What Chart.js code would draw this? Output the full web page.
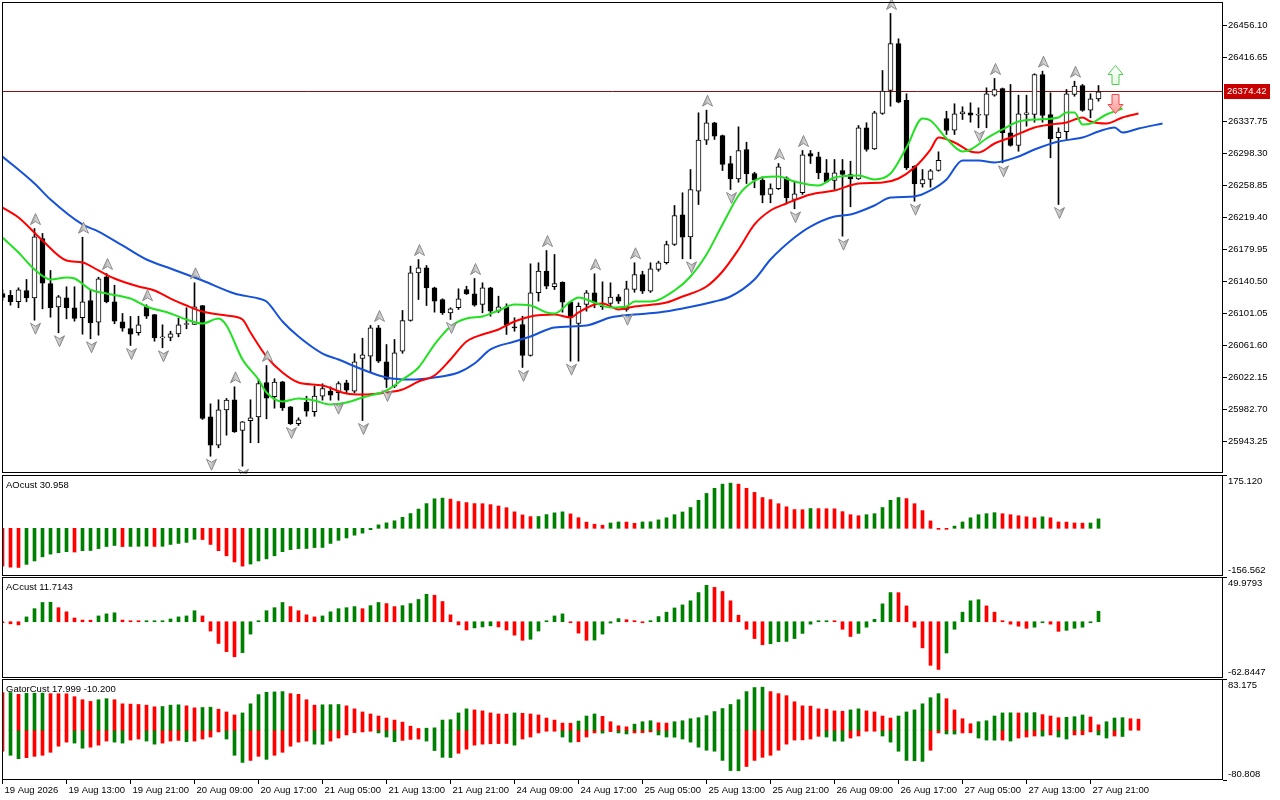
<!DOCTYPE html>
<html>
<head>
<meta charset="utf-8">
<script src="https://cdn.jsdelivr.net/npm/chart.js@4.4.1/dist/chart.umd.min.js"></script>
<style>
  html, body { margin: 0; padding: 0; background: #fff; }
  #wrap { position: relative; width: 1280px; height: 800px; overflow: hidden; background: #fff; }
  canvas { position: absolute; left: 0; }
</style>
</head>
<body>
<div id="wrap">
  <canvas id="main" width="1280" height="474" style="top:0px;width:1280px;height:474px"></canvas>
  <canvas id="ao" width="1280" height="101" style="top:475px;width:1280px;height:101px"></canvas>
  <canvas id="ac" width="1280" height="101" style="top:577px;width:1280px;height:101px"></canvas>
  <canvas id="gator" width="1280" height="121" style="top:679px;width:1280px;height:121px"></canvas>
</div>
<script>
// ---- data (bar -1 is the half-visible bar at the left edge) ----
const FIRST_BAR = -1;

const opens = [26125.7,26123.6,26115.5,26129.4,26120.4,26193.5,26138.0,26109.3,26120.4,26108.1,
  26095.8,26117.1,26090.3,26146.3,26115.5,26090.8,26082.6,26077.3,26109.7,26099.8,
  26071.1,26071.5,26076.0,26087.5,26087.5,26110.9,25973.7,25938.7,25982.3,25994.7,
  25956.8,25968.8,25973.7,26016.0,25998.4,26016.9,25986.0,25965.1,25991.7,25979.9,
  25999.1,26005.3,26003.3,26015.6,26005.3,26045.6,26048.4,26083.4,26041.5,26011.4,
  26054.6,26092.4,26151.2,26157.4,26132.7,26118.3,26101.9,26108.1,26130.6,26125.3,
  26112.1,26132.7,26103.9,26109.3,26084.7,26087.5,26049.3,26126.6,26153.2,26134.0,
  26139.6,26115.0,26088.7,26112.1,26126.6,26110.3,26113.4,26121.6,26106.0,26130.6,
  26149.1,26128.5,26155.3,26163.6,26186.1,26222.7,26195.6,26251.8,26314.7,26336.2,
  26320.5,26286.0,26267.1,26303.2,26273.6,26265.4,26247.8,26254.8,26268.3,26241.6,
  26249.9,26298.3,26294.2,26274.5,26265.0,26277.3,26272.4,26267.1,26330.0,26304.1,
  26347.6,26376.0,26433.9,26364.0,26282.6,26260.9,26266.3,26277.3,26341.4,26327.0,
  26347.2,26348.5,26345.5,26345.5,26370.2,26378.4,26323.8,26308.2,26346.4,26346.4,
  26395.7,26346.4,26317.7,26325.1,26371.0,26382.1,26351.7,26365.7];
const highs = [26130.6,26129.4,26132.7,26143.0,26205.8,26199.7,26154.1,26123.2,26134.0,26134.0,
  26195.1,26130.6,26145.8,26150.4,26135.9,26101.1,26097.4,26097.7,26111.8,26099.8,
  26087.1,26079.2,26095.3,26108.1,26138.9,26110.9,25989.7,25994.7,25996.3,26010.7,
  25968.0,25994.7,26019.7,26037.0,26020.6,26017.5,25986.4,25972.5,25999.1,26011.4,
  26014.4,26010.7,26016.9,26018.8,26051.4,26070.6,26086.3,26086.3,26062.8,26069.0,
  26104.8,26159.4,26167.6,26160.2,26133.5,26119.2,26108.1,26131.5,26134.7,26144.2,
  26138.9,26133.3,26122.4,26113.0,26095.8,26097.7,26162.3,26163.6,26178.7,26173.8,
  26140.2,26115.6,26114.2,26129.4,26150.0,26140.1,26138.9,26124.5,26140.9,26163.6,
  26153.2,26163.6,26165.5,26190.2,26234.2,26249.9,26278.6,26348.5,26351.7,26336.8,
  26321.1,26295.0,26331.2,26312.2,26275.2,26269.6,26260.9,26286.0,26269.6,26264.2,
  26302.0,26302.0,26299.9,26290.9,26290.9,26290.9,26288.8,26332.8,26336.2,26350.4,
  26400.6,26470.9,26439.7,26371.9,26283.2,26278.6,26278.6,26300.4,26350.4,26359.6,
  26355.9,26360.8,26354.6,26379.3,26390.8,26379.0,26383.4,26370.2,26370.2,26396.6,
  26399.8,26373.1,26330.0,26377.2,26387.4,26383.4,26371.9,26382.1];
const lows = [26117.1,26111.3,26108.1,26115.5,26092.8,26106.8,26096.5,26077.3,26094.5,26091.6,
  26075.5,26069.9,26074.3,26114.2,26088.4,26079.2,26061.6,26074.3,26094.9,26066.9,
  26058.8,26067.4,26072.3,26082.2,26087.5,25970.4,25925.1,25935.5,25951.0,25954.5,
  25912.8,25941.7,25941.7,25971.2,25984.3,25981.5,25964.2,25963.0,25974.4,25974.4,
  25994.2,25994.2,25994.2,26003.3,26003.3,25969.1,26028.7,26040.6,26009.8,26009.8,
  26052.0,26091.6,26118.3,26110.9,26102.7,26099.8,26093.7,26106.0,26124.5,26110.0,
  26101.9,26097.7,26102.3,26075.2,26079.2,26034.5,26048.5,26116.2,26131.5,26130.6,
  26102.7,26042.3,26042.3,26103.9,26108.1,26106.0,26110.9,26113.4,26103.9,26127.3,
  26125.7,26127.0,26153.2,26162.0,26184.9,26168.5,26168.5,26235.4,26309.4,26315.6,
  26277.3,26253.9,26262.9,26261.3,26256.0,26237.5,26237.5,26253.9,26237.5,26230.1,
  26247.8,26286.0,26267.1,26262.5,26253.9,26196.4,26232.6,26266.3,26301.1,26303.2,
  26346.5,26356.6,26360.8,26278.6,26239.5,26256.8,26256.8,26276.5,26321.7,26321.7,
  26340.2,26336.9,26330.0,26330.0,26368.9,26286.8,26307.3,26301.1,26332.0,26336.9,
  26336.9,26293.0,26235.4,26315.6,26368.9,26350.4,26342.3,26362.8];
const closes = [26120.8,26115.5,26130.3,26120.4,26195.6,26138.4,26108.1,26121.6,26108.1,26094.9,
  26115.5,26089.6,26143.8,26115.5,26091.6,26082.9,26075.5,26087.1,26097.7,26071.1,
  26071.8,26076.0,26087.1,26088.7,26109.3,25971.6,25938.7,25982.3,25994.2,25955.2,
  25967.5,25972.5,26014.8,25996.6,26016.4,25984.8,25965.1,25970.0,25980.6,25999.1,
  26008.6,26000.3,26014.8,26006.5,26041.5,26050.1,26083.4,26042.3,26019.7,26052.6,
  26092.4,26151.2,26157.4,26132.7,26116.2,26101.9,26106.8,26119.2,26125.3,26111.3,
  26132.7,26103.9,26109.3,26086.6,26083.4,26049.3,26126.6,26153.2,26134.7,26138.0,
  26115.0,26095.8,26110.0,26126.6,26114.2,26109.1,26121.2,26116.2,26131.5,26149.1,
  26128.5,26156.2,26163.6,26186.1,26221.9,26195.1,26253.9,26314.7,26336.2,26319.6,
  26284.7,26267.1,26302.0,26273.3,26265.4,26246.9,26255.2,26281.9,26243.7,26248.6,
  26296.7,26295.0,26274.5,26263.4,26274.5,26272.4,26267.1,26330.0,26303.2,26348.5,
  26375.1,26433.9,26361.5,26280.7,26260.9,26266.3,26277.0,26290.0,26326.7,26347.2,
  26349.7,26345.5,26346.4,26371.9,26377.2,26323.8,26308.2,26347.2,26348.5,26395.7,
  26345.1,26316.4,26324.6,26371.9,26381.3,26351.3,26365.7,26374.42];

// Alligator lines, read at sample bars (bar index, price)
const jawBars = [-1,3,5,9,11,14,17,20,24,28,31,32,34,36,39,41,44,47,50,53,56,58,60,63,65,68,72,75,78,81,
  84,88,90,93,95,98,100,103,105,108,110,113,115,117,119,121,123,126,128,131,134,136,138,139,141,144];
const jawVals = [26294.6,26261.3,26241.6,26210.8,26202.1,26184.9,26167.6,26156.5,26141.7,26125.7,
  26119.5,26115.8,26091.2,26072.7,26051.7,26044.3,26032.0,26022.2,26019.7,26022.2,
  26028.3,26039.4,26056.7,26066.5,26072.7,26083.8,26086.3,26096.1,26099.8,26102.3,
  26107.2,26115.8,26122.0,26143.0,26167.6,26194.7,26208.3,26220.6,26223.1,26234.2,
  26244.1,26245.3,26252.7,26266.3,26289.7,26289.7,26287.2,26294.6,26303.2,26313.1,
  26318.0,26325.4,26330.4,26324.2,26329.1,26335.3];
const teethBars = [-1,1,4,7,9,11,13,16,18,20,22,24,27,29,30,32,34,36,39,42,44,47,49,51,53,55,57,59,61,63,
  65,68,70,71,73,74,76,78,82,84,87,89,91,93,95,97,100,103,106,109,111,113,115,116,118,120,121,123,125,128,
  130,132,134,135,137,139,141];
const teethVals = [26231.7,26219.4,26191.0,26166.4,26163.9,26154.1,26144.2,26134.3,26129.4,26119.5,
  26110.9,26103.5,26098.6,26093.7,26077.6,26048.0,26028.3,26016.0,26012.3,26002.4,
  26001.2,26003.7,26007.4,26017.2,26024.6,26044.3,26066.5,26075.2,26081.3,26091.2,
  26097.4,26099.8,26096.1,26102.3,26112.1,26113.4,26106.0,26109.7,26114.6,26122.0,
  26134.3,26152.8,26179.9,26210.8,26228.0,26236.7,26247.8,26252.7,26261.3,26262.5,
  26267.5,26281.0,26303.2,26318.0,26311.9,26300.8,26299.5,26310.6,26318.0,26330.4,
  26334.1,26336.5,26342.7,26337.8,26335.3,26342.7,26347.6];
const lipsBars = [-1,1,3,5,7,8,10,12,15,17,20,22,24,26,27,29,31,32,34,36,38,40,42,44,47,49,51,53,55,57,
  59,61,63,65,67,68,70,71,73,75,77,78,80,83,85,87,89,91,92,94,96,98,101,103,106,108,110,112,114,115,
  117,119,120,122,124,126,128,131,132,133,134,135,137,139];
const lipsVals = [26194.7,26176.3,26155.3,26143.0,26145.4,26144.2,26130.6,26125.7,26119.5,26109.7,
  26101.1,26093.7,26088.7,26094.9,26086.3,26044.3,26019.7,26003.7,25992.6,25996.3,
  25993.8,25988.9,25991.3,25997.5,26006.1,26019.7,26034.5,26062.8,26085.0,26094.9,
  26097.4,26104.8,26112.1,26110.9,26102.3,26101.1,26115.8,26120.8,26114.6,26108.4,
  26109.7,26115.8,26115.8,26129.4,26146.7,26173.8,26210.8,26246.5,26257.6,26268.7,
  26269.9,26263.8,26258.9,26268.7,26271.2,26266.3,26273.6,26305.7,26341.4,26339.0,
  26316.8,26300.8,26303.2,26316.8,26327.9,26337.8,26340.2,26342.7,26348.8,26348.8,
  26334.1,26335.3,26346.4,26353.8];

const upFractalBars = [3,9,12,17,23,28,32,46,51,58,67,73,78,87,96,99,110,123,129,133];
const downFractalBars = [3,6,10,15,19,25,29,35,41,44,47,55,64,70,77,85,90,98,104,113,121,124,131];

const signalBar = 138;
const signalUpPrice = 26394.5;
const signalDownPrice = 26360.6;
const bidPrice = 26374.42;

const priceTicks = [26456.10,26416.65,26337.75,26298.30,26258.85,26219.40,26179.95,26140.50,
  26101.05,26061.60,26022.15,25982.70,25943.25];

const aoVals = [-124,-127.5,-128.5,-118.4,-107.2,-93.6,-84.6,-80.1,-76.7,-77.8,
  -73.3,-72.8,-66.6,-59.8,-56.4,-60,-59.5,-59,-58.5,-59.5,
  -59,-53,-49.6,-46.2,-36.1,-36.8,-53,-73.3,-90.2,-110.5,
  -124.1,-117.3,-107.2,-100.4,-90.2,-76.7,-69.9,-66.6,-66.2,-63.2,
  -62.8,-49.6,-39.5,-31.6,-22.6,-15.8,-4.5,11.3,18,24.8,
  36.1,48.5,63.2,81.2,97,99.3,95.9,88,84.6,81.2,
  80.8,77.8,73.3,67.7,54.1,44,38.4,38.8,45.1,50.8,
  54.1,47.4,35,20.3,13.5,10.2,17.6,21,20.6,16.5,
  21,21.4,27.7,34.5,44.7,53.7,68.4,92,114.6,131.5,
  145.1,148.4,145.1,131.5,118,101.1,94.3,80.8,70.6,61.6,
  61.2,65,64.7,64.4,64.1,54.8,44.7,41.3,44.7,48.1,
  68.4,92,101.1,97.7,80.8,58.2,24.4,-1,-1.5,7.4,
  21,34.5,44.7,48.1,51.4,48,44.7,41.3,37.9,34.5,
  37.9,34.5,21,20.5,17.6,17,17.5,30.958];
const acVals = [-0.8,-2.3,-3.5,5.4,14.6,21.5,21.8,15.7,11.1,4.2,
  1.9,1.7,6.5,8.8,10,1.9,0.6,0.3,0.5,0.6,
  0.9,3.1,5.4,6.5,12.3,6.5,-10.4,-24.2,-33.4,-39.1,
  -34.5,-13.8,0.8,12.3,15.7,21.5,16.9,12.3,7.7,5.4,
  6.5,11.1,14.6,15.7,16.9,14.6,18,21.5,20.3,16.9,
  18,20.3,24.9,30.7,29.6,22.6,7.7,-3.5,-9.2,-6.9,
  -5.8,-4.6,-5.8,-9.2,-15,-20.7,-19.6,-10.4,0.8,6.5,
  8.8,-0.8,-12.7,-20.7,-20.5,-13.8,-1.5,3.5,2.3,1.2,
  -0.2,1.2,5.8,10.7,15.4,18.8,23.4,32.6,40.7,38.4,
  33.8,23.4,7.3,-8.4,-18.8,-25.7,-24.6,-22.3,-22,-18.8,
  -13,-2.7,0.8,1.0,0.5,-8.4,-16.5,-13,-6.1,2.7,
  20,32.6,32.5,17.7,-6.1,-29.2,-48.7,-53.3,-34.9,-8.4,
  10.7,23.4,24.6,17.7,10.7,1.2,-2.7,-5,-7.3,-6.1,
  -0.3,-2.7,-10.7,-9.6,-7.3,-6.1,-0.3,11.7143];
const gatorUpper = [61.1,61.2,58.3,60.0,60.1,60.2,59.4,59.3,59.2,54.5,
  49.5,46.8,49.5,51.2,49.5,42.9,42.4,41.8,40.7,38.0,
  38.5,40.7,41.3,39.6,36.3,36.9,37.4,34.1,29.7,24.8,
  28.1,42.9,57.8,61.6,62.2,62.7,59.4,58.3,49.5,40.7,
  41.3,41.5,41.8,39.6,34.7,29.7,26.4,23.1,19.8,16.5,
  13.2,6.6,2.8,3.3,3.9,16.5,17.1,28.1,34.7,33.0,
  31.4,28.1,26.4,26.1,28.1,27.5,26.4,24.8,19.8,16.5,
  11.6,11.3,14.9,23.1,26.4,22.6,13.8,7.2,5.5,9.9,
  13.8,15.4,12.1,11.6,13.8,15.4,18.7,20.4,23.7,30.3,
  35.2,41.8,49.5,62.7,69.3,69.9,62.7,59.4,56.1,46.2,
  39.6,39.1,34.7,34.1,31.4,30.8,33.0,34.7,31.4,29.7,
  23.1,19.8,23.1,29.7,33.0,42.9,52.8,59.4,51.2,33.0,
  18.7,10.5,13.8,15.4,23.1,28.1,28.3,28.0,28.3,28.6,
  25.3,23.1,20.4,20.9,22.0,24.8,21.5,8.8,13.8,19.8,
  20.4,18.7,17.999];
const gatorLower = [-34.1,-40.7,-46.2,-44.6,-42.4,-40.7,-35.8,-25.9,-19.3,-20.9,
  -29.2,-27.5,-24.2,-17.6,-19.3,-20.9,-16.0,-14.3,-17.6,-22.6,
  -20.9,-17.6,-16.5,-18.7,-17.6,-14.3,-11.0,-2.8,-14.3,-40.7,
  -52.3,-49.0,-42.4,-47.3,-40.7,-35.8,-25.9,-19.3,-17.6,-22.6,
  -22.8,-17.6,-12.7,-7.7,-3.9,-2.8,-1.1,-4.4,-11.0,-18.7,
  -16.5,-14.9,-14.3,-17.6,-33.0,-44.0,-44.3,-37.4,-30.8,-24.2,
  -22.6,-22.0,-21.7,-21.5,-24.2,-14.3,-11.0,-4.4,-1.1,-0.6,
  -11.0,-19.3,-18.7,-11.0,-4.4,-4.7,-2.2,-4.4,-6.1,-4.4,
  -4.1,-2.8,-7.7,-11.0,-11.3,-14.3,-19.3,-27.5,-32.5,-34.1,
  -49.0,-65.5,-65.8,-58.9,-49.0,-44.0,-40.7,-32.5,-22.6,-16.0,
  -15.7,-14.3,-9.9,-11.0,-17.6,-17.9,-12.7,-9.4,-1.1,-0.6,
  -9.4,-19.3,-34.1,-49.0,-49.5,-50.6,-32.5,-4.4,-6.1,-6.3,
  -4.4,-4.1,-12.7,-16.0,-16.2,-16.0,-17.6,-12.7,-11.0,-9.4,
  -9.6,-7.7,-11.0,-14.3,-7.7,-7.4,-2.8,-7.7,-12.7,-9.4,
  -10.2];

const aoRange = [-156.562, 175.120];
const acRange = [-62.8447, 49.9793];
const gatorRange = [-80.808, 83.175];
const aoAxisLabels = ['175.120', '-156.562'];
const acAxisLabels = ['49.9793', '-62.8447'];
const gatorAxisLabels = ['83.175', '-80.808'];
const aoTitle = 'AOcust 30.958';
const acTitle = 'ACcust 11.7143';
const gatorTitle = 'GatorCust 17.999 -10.200';

const timeTickBars = [-1,7,15,23,31,39,47,55,63,71,79,87,95,103,111,119,127,135];
const timeTickLabels = ['19 Aug 2026','19 Aug 13:00','19 Aug 21:00','20 Aug 09:00','20 Aug 17:00',
  '21 Aug 05:00','21 Aug 13:00','21 Aug 21:00','24 Aug 09:00','24 Aug 17:00','25 Aug 05:00',
  '25 Aug 13:00','25 Aug 21:00','26 Aug 09:00','26 Aug 17:00','27 Aug 05:00','27 Aug 13:00',
  '27 Aug 21:00'];

// ---- look ----
const GREEN = '#008000', RED = '#ff0000';
const JAW = '#1652d8', TEETH = '#ff0000', LIPS = '#22e022';
const X_MIN = -1.0625, X_MAX = 151.5625;    // 8 px per bar
const MAIN_MIN = 25904.42, MAIN_MAX = 26485.07;
const AXIS_W = 57;

Chart.defaults.font.family = "'Liberation Sans', Arial, sans-serif";
Chart.defaults.font.size = 9.5;
Chart.defaults.color = '#000';

const barX = i => FIRST_BAR + i;

function dirColors(vals, useAbs) {
  return vals.map((v, i) => {
    if (i === 0) return RED;
    const a = useAbs ? Math.abs(v) : v, b = useAbs ? Math.abs(vals[i - 1]) : vals[i - 1];
    return a > b ? GREEN : RED;
  });
}

const framePlugin = {
  id: 'frame',
  afterDraw(chart) {
    const a = chart.chartArea, c = chart.ctx;
    c.save();
    c.strokeStyle = '#000';
    c.lineWidth = 1;
    c.strokeRect(a.left + 0.5, a.top + 0.5, a.right - a.left - 1, a.bottom - a.top - 1);
    c.restore();
  }
};

function panelTextPlugin(title, labels) {
  return {
    id: 'panelText',
    afterDraw(chart) {
      const a = chart.chartArea, c = chart.ctx;
      c.save();
      c.fillStyle = '#000';
      c.font = "9.5px 'Liberation Sans', Arial, sans-serif";
      c.textBaseline = 'middle';
      c.textAlign = 'left';
      c.fillText(title, a.left + 4, a.top + 10);
      c.fillText(labels[0], a.right + 5, a.top + 6);
      c.fillText(labels[1], a.right + 5, a.bottom - 6);
      c.restore();
    }
  };
}

function hideX() {
  return { type: 'linear', min: X_MIN, max: X_MAX, display: false, offset: false };
}

function baseOptions(scales) {
  return {
    responsive: false, animation: false, devicePixelRatio: 1, events: [],
    layout: { padding: { left: 2, right: 0, top: 0, bottom: 0 } },
    plugins: { legend: { display: false }, tooltip: { enabled: false } },
    scales: scales
  };
}

function panelY(range) {
  return {
    position: 'right', min: range[0], max: range[1],
    afterBuildTicks: s => { s.ticks = [{ value: range[1] }, { value: range[0] }]; },
    afterFit: s => { s.width = AXIS_W; s.paddingTop = 0; s.paddingBottom = 0; },
    ticks: { display: false },
    grid: { drawOnChartArea: false, drawTicks: true, tickLength: 4, color: '#000' },
    border: { display: false }
  };
}

// ---- main price chart ----
function fractalShape(c, x, yBase, dir) {   // dir -1: points up, +1: points down
  c.beginPath();
  c.moveTo(x, yBase + dir * 11);
  c.lineTo(x + 5, yBase);
  c.lineTo(x, yBase + dir * 3);
  c.lineTo(x - 5, yBase);
  c.closePath();
}

const markerPlugin = {
  id: 'markers',
  beforeDatasetsDraw(chart) {
    const a = chart.chartArea, c = chart.ctx, y = Math.floor(chart.scales.y.getPixelForValue(bidPrice)) + 0.5;
    c.save();
    c.strokeStyle = '#8c1010';
    c.lineWidth = 1;
    c.beginPath(); c.moveTo(a.left, y); c.lineTo(a.right, y); c.stroke();
    c.restore();
  },
  afterDatasetsDraw(chart) {
    const xs = chart.scales.x, ys = chart.scales.y, c = chart.ctx;
    c.save();
    c.lineWidth = 1;
    c.strokeStyle = '#8a8a8a';
    upFractalBars.forEach(b => {
      const x = Math.round(xs.getPixelForValue(b)) + 0.5, yb = ys.getPixelForValue(highs[b - FIRST_BAR]) - 4;
      const g = c.createLinearGradient(x - 5, 0, x + 5, 0);
      g.addColorStop(0, '#9a9a9a'); g.addColorStop(0.5, '#c8c8c8'); g.addColorStop(1, '#eeeeee');
      fractalShape(c, x, yb, -1);
      c.fillStyle = g; c.fill(); c.stroke();
    });
    downFractalBars.forEach(b => {
      const x = Math.round(xs.getPixelForValue(b)) + 0.5, yt = ys.getPixelForValue(lows[b - FIRST_BAR]) + 3;
      const g = c.createLinearGradient(x - 5, 0, x + 5, 0);
      g.addColorStop(0, '#eeeeee'); g.addColorStop(0.5, '#c8c8c8'); g.addColorStop(1, '#9a9a9a');
      fractalShape(c, x, yt, 1);
      c.fillStyle = g; c.fill(); c.stroke();
    });
    // signal arrows
    const sx = Math.round(xs.getPixelForValue(signalBar)) + 0.5;
    const blockArrow = (cy, dir) => {   // dir -1 = up
      c.beginPath();
      c.moveTo(sx, cy + dir * 10);
      c.lineTo(sx + 7.5, cy + dir * 1);
      c.lineTo(sx + 3.5, cy + dir * 1);
      c.lineTo(sx + 3.5, cy - dir * 9);
      c.lineTo(sx - 3.5, cy - dir * 9);
      c.lineTo(sx - 3.5, cy + dir * 1);
      c.lineTo(sx - 7.5, cy + dir * 1);
      c.closePath();
    };
    const uy = Math.round(ys.getPixelForValue(signalUpPrice)) + 0.5;
    let g = c.createLinearGradient(0, uy - 10, 0, uy + 9);
    g.addColorStop(0, '#ffffff'); g.addColorStop(1, '#e6f8e6');
    blockArrow(uy, -1); c.fillStyle = g; c.fill(); c.strokeStyle = '#54cc54'; c.stroke();
    const dy = Math.round(ys.getPixelForValue(signalDownPrice)) + 0.5;
    g = c.createLinearGradient(0, dy - 9, 0, dy + 10);
    g.addColorStop(0, '#ffd0d0'); g.addColorStop(1, '#ff9a9a');
    blockArrow(dy, 1); c.fillStyle = g; c.fill(); c.strokeStyle = '#f04848'; c.stroke();
    c.restore();
  },
  afterDraw(chart) {
    const a = chart.chartArea, c = chart.ctx, y = Math.floor(chart.scales.y.getPixelForValue(bidPrice));
    c.save();
    c.fillStyle = '#c80000';
    c.fillRect(a.right + 1, y - 7, 46, 15);
    c.fillStyle = '#fff';
    c.font = "9.5px 'Liberation Sans', Arial, sans-serif";
    c.textBaseline = 'middle';
    c.fillText(bidPrice.toFixed(2), a.right + 4, y + 0.5);
    c.restore();
  }
};

const linePts = (bars, vals) => bars.map((b, i) => ({ x: b, y: vals[i] }));
const lineDs = (bars, vals, color, order) => ({
  type: 'line', data: linePts(bars, vals), borderColor: color, borderWidth: 2,
  pointRadius: 0, fill: false, cubicInterpolationMode: 'monotone', order: order
});

const mainOpts = baseOptions({
  x: hideX(),
  y: {
    position: 'right', min: MAIN_MIN, max: MAIN_MAX,
    afterBuildTicks: s => { s.ticks = priceTicks.map(v => ({ value: v })); },
    afterFit: s => { s.width = AXIS_W; s.paddingTop = 0; s.paddingBottom = 0; },
    ticks: { autoSkip: false, padding: 1, callback: v => v.toFixed(2) },
    grid: { drawOnChartArea: false, drawTicks: true, tickLength: 4, color: '#000' },
    border: { display: false }
  }
});
mainOpts.layout.padding.top = 2;
mainOpts.layout.padding.bottom = 1;

new Chart(document.getElementById('main'), {
  type: 'bar',
  data: {
    datasets: [
      lineDs(lipsBars, lipsVals, LIPS, 0),
      lineDs(teethBars, teethVals, TEETH, 1),
      lineDs(jawBars, jawVals, JAW, 2),
      {
        data: opens.map((o, i) => ({ x: barX(i), y: [Math.min(o, closes[i]), Math.max(o, closes[i])] })),
        backgroundColor: opens.map((o, i) => closes[i] >= o ? '#ffffff' : '#000000'),
        borderColor: '#000', borderWidth: 1, borderSkipped: false,
        barThickness: 5, grouped: false, minBarLength: 1, order: 5
      },
      {
        data: lows.map((l, i) => ({ x: barX(i), y: [l, highs[i]] })),
        backgroundColor: '#000', borderWidth: 0,
        barThickness: 1, grouped: false, order: 6
      }
    ]
  },
  options: mainOpts,
  plugins: [markerPlugin, framePlugin]
});

// ---- indicator panels ----
function histDs(vals, useAbs) {
  return {
    data: vals.map((v, i) => ({ x: barX(i), y: v })),
    backgroundColor: dirColors(vals, useAbs),
    borderWidth: 0, barThickness: 3, grouped: false, minBarLength: 1
  };
}

new Chart(document.getElementById('ao'), {
  type: 'bar',
  data: { datasets: [histDs(aoVals, false)] },
  options: baseOptions({ x: hideX(), y: panelY(aoRange) }),
  plugins: [framePlugin, panelTextPlugin(aoTitle, aoAxisLabels)]
});

new Chart(document.getElementById('ac'), {
  type: 'bar',
  data: { datasets: [histDs(acVals, false)] },
  options: baseOptions({ x: hideX(), y: panelY(acRange) }),
  plugins: [framePlugin, panelTextPlugin(acTitle, acAxisLabels)]
});

new Chart(document.getElementById('gator'), {
  type: 'bar',
  data: { datasets: [histDs(gatorUpper, true), histDs(gatorLower, true)] },
  options: baseOptions({
    x: {
      type: 'linear', min: X_MIN, max: X_MAX, offset: false, position: 'bottom',
      afterBuildTicks: s => { s.ticks = timeTickBars.map(v => ({ value: v })); },
      afterFit: s => { s.height = 20; s.paddingLeft = 0; s.paddingRight = 0; },
      ticks: {
        autoSkip: false, maxRotation: 0, minRotation: 0, align: 'start', labelOffset: 2, padding: 1,
        callback: v => timeTickLabels[timeTickBars.indexOf(v)]
      },
      grid: { drawOnChartArea: false, drawTicks: true, tickLength: 4, color: '#000', offset: false },
      border: { display: false }
    },
    y: panelY(gatorRange)
  }),
  plugins: [framePlugin, panelTextPlugin(gatorTitle, gatorAxisLabels)]
});
</script>
</body>
</html>
